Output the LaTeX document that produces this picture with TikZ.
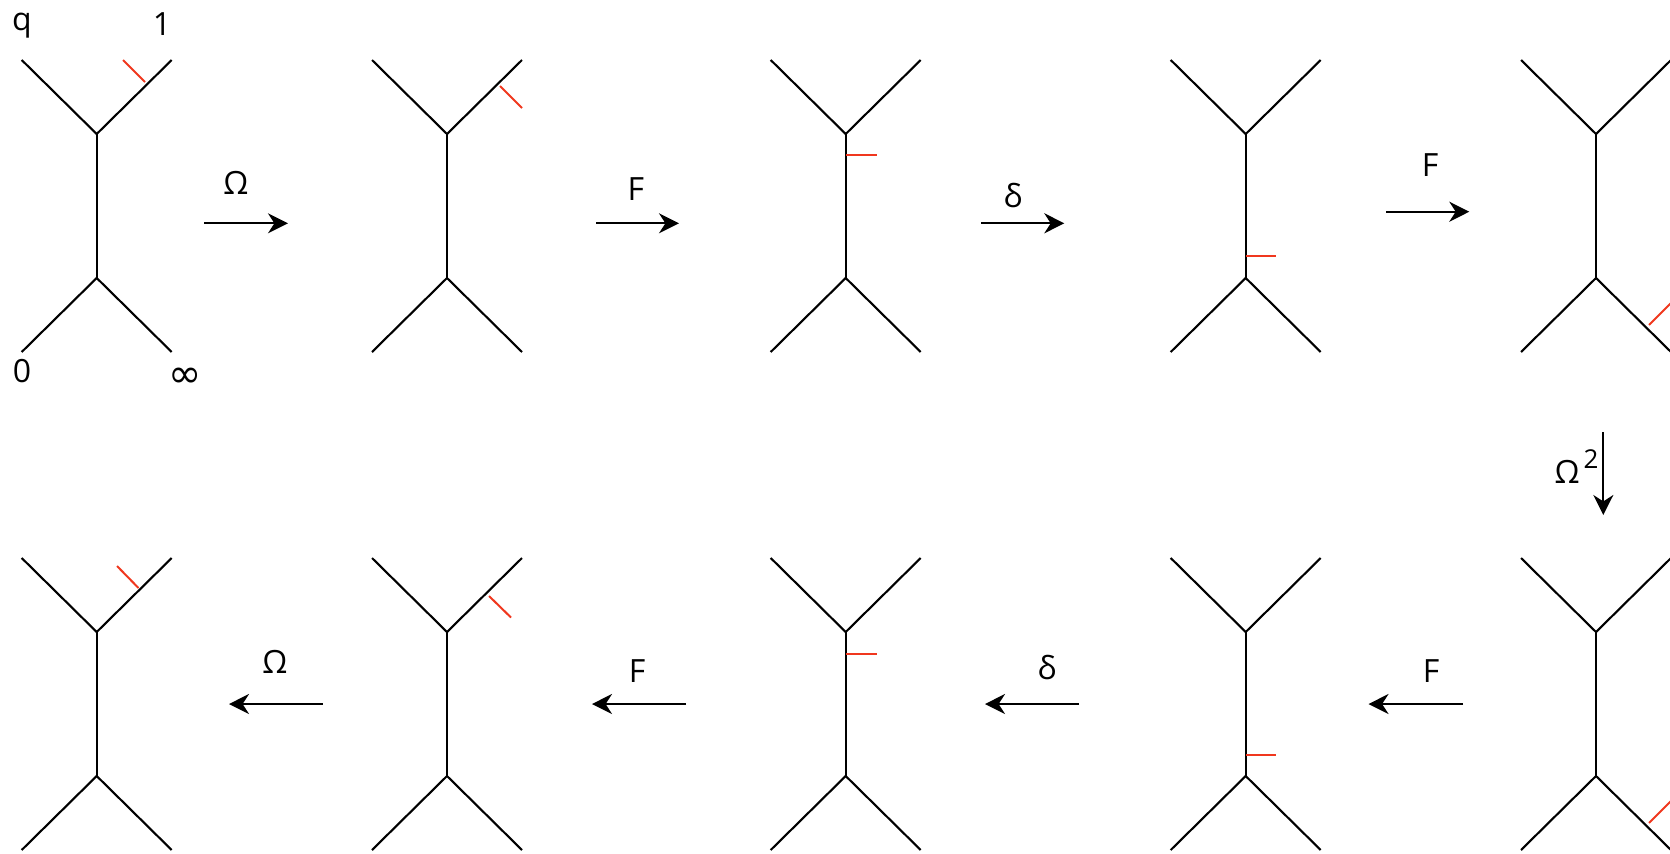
\documentclass[tikz,border=0pt]{standalone}
\usepackage{fontspec}
\setmainfont{Open Sans}
\newfontfamily\symfont{DejaVu Sans}
\usetikzlibrary{arrows.meta}
\definecolor{tickred}{RGB}{240,55,30}

\begin{document}
\begin{tikzpicture}[x=0.5pt,y=-0.5pt,
    leg/.style={line width=1.05pt},
    tick/.style={tickred, line width=1pt},
    map/.style={line width=1.1pt, -{Stealth[length=10pt,width=10pt,inset=3.2pt]}},
    lab/.style={font=\fontsize{16}{18}\selectfont}]
\useasboundingbox (0,0) rectangle (1670,853);
\clip (0,0) rectangle (1670,853);
% trees
\foreach \n/\x/\y in {ta/96.7/60,tb/447/60,tc/845.7/60,td/1245.7/60,te/1596/60,
                      ba/96.7/558,bb/447/558,bc/845.7/558,bd/1245.7/558,be/1596/558}{
    \coordinate (\n u) at (\x,\y+74);
    \coordinate (\n d) at (\x,\y+218);
    \draw[leg] (\x-75,\y) -- (\n u) -- (\x+75,\y);
    \draw[leg] (\n u) -- (\n d);
    \draw[leg] (\x-75,\y+292) -- (\n d) -- (\x+75,\y+292);
}
% red marks
\draw[tick] (123,60) -- (145,82);
\draw[tick] (500,86) -- (522,108);
\draw[tick] (846,154.5) -- (876.6,154.5);
\draw[tick] (1246,256) -- (1276,256);
\draw[tick] (1649,325) -- (1671,303);
\draw[tick] (117,566) -- (138.5,588);
\draw[tick] (489,596) -- (511,617.5);
\draw[tick] (846,654) -- (876.6,654);
\draw[tick] (1246,754.5) -- (1276,754.5);
\draw[tick] (1649,823) -- (1671,801);
% maps
\foreach \n/\xa/\ya/\xb/\yb in {m1/204/223.3/288/223.3, m2/596/223.3/679/223.3,
        m3/981/223.3/1064.3/223.3, m4/1386/211.7/1469.3/211.7, m5/1603.3/432/1603.3/515,
        m6/1463/704/1368.5/704, m7/1079/704/985/704, m8/686/704/592/704, m9/322.7/704/229/704}{
    \coordinate (\n s) at (\xa,\ya);
    \coordinate (\n e) at (\xb,\yb);
    \draw[map] (\n s) -- (\n e);
}
\node[lab] (l1) at (236,183) {Ω};
\node[lab] (l2) at (636,189) {F};
\node[lab] (l3) at (1013,196) {δ};
\node[lab] (l4) at (1430,165) {F};
\node[lab] (l5) at (1567,472) {Ω};
\node[font=\fontsize{13}{15}\selectfont] (l5s) at (1591,459) {2};
\node[lab] (l6) at (1431,671) {F};
\node[lab] (l7) at (1047,668) {δ};
\node[lab] (l8) at (637,671) {F};
\node[lab] (l9) at (275,662) {Ω};
% leg labels
\node[lab, anchor=base] (lq) at (22,30) {q};
\node[lab, anchor=base] (lone) at (162,35) {1};
\node[lab, anchor=base] (lzero) at (22,382) {0};
\node[font=\fontsize{20}{22}\selectfont] (linf) at (185,377.5) {\symfont ∞};
\end{tikzpicture}
\end{document}
